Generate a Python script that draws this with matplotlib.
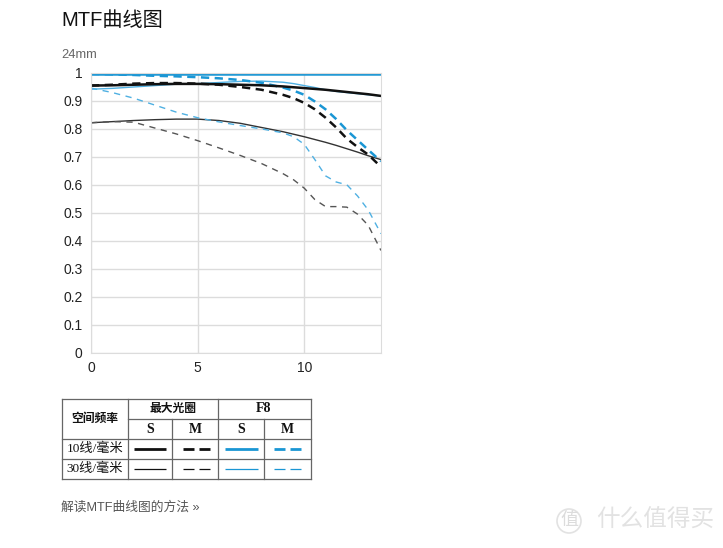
import matplotlib
matplotlib.use("Agg")
import matplotlib.pyplot as plt
from matplotlib.patches import Circle

plt.rcParams['font.family'] = ['Liberation Sans', 'Noto Sans CJK SC', 'DejaVu Sans']

# distance from image centre (mm)
x = [0, 1, 2, 3, 4, 5, 6, 7, 8, 9, 9.5, 10, 10.5, 11, 11.5, 12, 12.5, 13, 13.6]

# max aperture
s10_max = [0.955, 0.956, 0.958, 0.960, 0.961, 0.961, 0.960, 0.958, 0.956, 0.952, 0.949, 0.946, 0.943, 0.940, 0.936, 0.932, 0.928, 0.924, 0.918]
m10_max = [0.955, 0.958, 0.962, 0.964, 0.964, 0.962, 0.958, 0.950, 0.940, 0.922, 0.910, 0.893, 0.870, 0.840, 0.805, 0.765, 0.735, 0.708, 0.664]
s30_max = [0.822, 0.826, 0.830, 0.833, 0.835, 0.835, 0.830, 0.820, 0.805, 0.790, 0.781, 0.772, 0.762, 0.752, 0.741, 0.729, 0.717, 0.704, 0.690]
m30_max = [0.822, 0.826, 0.824, 0.803, 0.782, 0.758, 0.732, 0.705, 0.676, 0.640, 0.618, 0.588, 0.547, 0.522, 0.522, 0.520, 0.495, 0.455, 0.365]

# F8
s10_f8 = [0.995] * len(x)
m10_f8 = [0.997, 0.995, 0.993, 0.990, 0.988, 0.985, 0.981, 0.975, 0.965, 0.948, 0.937, 0.922, 0.898, 0.870, 0.835, 0.795, 0.760, 0.725, 0.684]
s30_f8 = [0.942, 0.945, 0.950, 0.955, 0.960, 0.962, 0.966, 0.970, 0.971, 0.967, 0.962, 0.955, 0.948, 0.940, 0.934, 0.930, 0.926, 0.922, 0.918]
m30_f8 = [0.946, 0.930, 0.910, 0.885, 0.860, 0.840, 0.825, 0.812, 0.800, 0.786, 0.772, 0.745, 0.690, 0.632, 0.610, 0.600, 0.560, 0.510, 0.425]

yticks = [0, 0.1, 0.2, 0.3, 0.4, 0.5, 0.6, 0.7, 0.8, 0.9, 1]
ytick_labels = ['0', '0.1', '0.2', '0.3', '0.4', '0.5', '0.6', '0.7', '0.8', '0.9', '1']
xticks = [0, 5, 10]

BLUE = '#1a96d4'
LBLUE = '#4fb0e2'
W, H = 723, 548

fig = plt.figure(figsize=(W / 100, H / 100), dpi=100)
ax = fig.add_axes([91 / W, 1 - 352.5 / H, 290 / W, 279.5 / H])

thick_dash = (0, (3.3, 2.2))
thin_dash = (0, (4.5, 4))
ax.plot(x, s30_max, color='#333333', lw=1.0)
ax.plot(x, m30_max, color='#555555', lw=1.0, ls=thin_dash)
ax.plot(x, m30_f8, color=LBLUE, lw=1.0, ls=thin_dash)
ax.plot(x, s30_f8, color=LBLUE, lw=1.0)
ax.plot(x, m10_max, color='#111111', lw=1.8, ls=thick_dash)
ax.plot(x, m10_f8, color=BLUE, lw=1.8, ls=thick_dash)
ax.plot(x, s10_max, color='#111111', lw=1.8)
ax.plot(x, s10_f8, color=BLUE, lw=1.8)

ax.set_xlim(0, 13.6)
ax.set_ylim(0, 1)
ax.set_yticks(yticks)
ax.set_yticklabels(ytick_labels)
ax.set_xticks(xticks)
ax.grid(True, color='#dcdcdc', lw=1.0)
ax.set_axisbelow(True)
for s in ax.spines.values():
    s.set_color('#dcdcdc')
ax.tick_params(length=0, labelsize=10, colors='#222222', pad=6)

# overlay in pixel coordinates for texts and the legend table
ov = fig.add_axes([0, 0, 1, 1])
ov.set_xlim(0, W)
ov.set_ylim(H, 0)
ov.axis('off')

ov.text(61, 21, 'MTF曲线图', fontsize=14.5, color='#111111', va='center', ha='left')
ov.text(61, 55, '24mm', fontsize=9.3, color='#666666', va='center', ha='left')

cols = [62, 128, 172, 218, 264, 311]
rows = [399, 419, 439, 459, 479]
lc = '#666666'
ov.plot([cols[0], cols[-1]], [rows[0], rows[0]], color=lc, lw=0.9)
ov.plot([cols[1], cols[-1]], [rows[1], rows[1]], color=lc, lw=0.9)
for r in rows[2:]:
    ov.plot([cols[0], cols[-1]], [r, r], color=lc, lw=0.9)
for c in [cols[0], cols[1], cols[3], cols[5]]:
    ov.plot([c, c], [rows[0], rows[-1]], color=lc, lw=0.9)
for c in [cols[2], cols[4]]:
    ov.plot([c, c], [rows[1], rows[-1]], color=lc, lw=0.9)

serif_cjk = ['Liberation Serif', 'Noto Sans CJK SC']
tkw = dict(ha='center', va='center', color='#111111')
ov.text(95, 419, '空间频率', fontsize=8.5, fontweight='bold', **tkw)
ov.text(173, 409, '最大光圈', fontsize=8.5, fontweight='bold', **tkw)
ov.text(264, 409, 'F8', fontsize=10, family='Liberation Serif', fontweight='bold', **tkw)
for cx, lab in zip([150, 195, 241, 287], ['S', 'M', 'S', 'M']):
    ov.text(cx, 429.5, lab, fontsize=10, family='Liberation Serif', fontweight='bold', **tkw)
ov.text(95, 449, '10线/毫米', fontsize=9.5, family=serif_cjk, **tkw)
ov.text(95, 469, '30线/毫米', fontsize=9.5, family=serif_cjk, **tkw)

for ry, lw in [(449, 2.0), (469, 0.9)]:
    seg = dict(lw=lw, solid_capstyle='butt')
    ov.plot([134, 166], [ry, ry], color='#111111', **seg)
    ov.plot([183, 194], [ry, ry], color='#111111', **seg)
    ov.plot([199, 210], [ry, ry], color='#111111', **seg)
    ov.plot([225, 258], [ry, ry], color=BLUE, **seg)
    ov.plot([274, 285], [ry, ry], color=BLUE, **seg)
    ov.plot([290, 301], [ry, ry], color=BLUE, **seg)

ov.text(61, 507, '解读MTF曲线图的方法 »', fontsize=9.2, color='#555555', va='center', ha='left')

# watermark
ov.add_patch(Circle((569, 521), 12, fill=False, ec='#e2e2e2', lw=1.2))
ov.text(569, 521, '值', fontsize=13, color='#dcdcdc', ha='center', va='center')
ov.text(596, 521, '什么值得买', fontsize=17, color='#e2e2e2', ha='left', va='center')

fig.savefig('out.png', dpi=100)
